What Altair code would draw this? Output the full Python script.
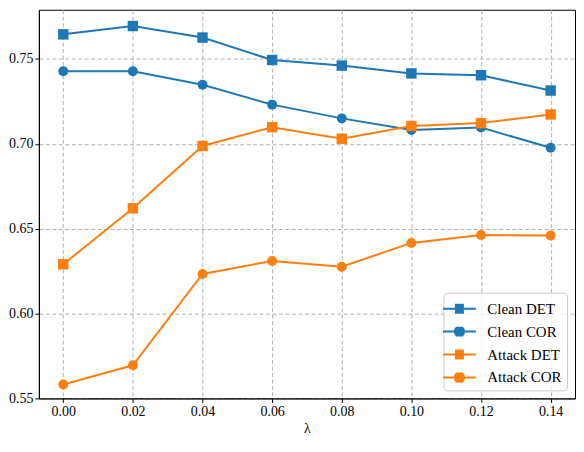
import math
import pandas as pd
import altair as alt

lambdas = [0.00, 0.02, 0.04, 0.06, 0.08, 0.10, 0.12, 0.14]
clean_det = [0.7645, 0.7694, 0.7626, 0.7494, 0.7461, 0.7415, 0.7404, 0.7314]
clean_cor = [0.7428, 0.7428, 0.7348, 0.7231, 0.7150, 0.7081, 0.7096, 0.6977]
attack_det = [0.6290, 0.6620, 0.6987, 0.7098, 0.7030, 0.7105, 0.7122, 0.7173]
attack_cor = [0.5582, 0.5695, 0.6233, 0.6310, 0.6276, 0.6416, 0.6463, 0.6460]

series_names = ['Clean DET', 'Clean COR', 'Attack DET', 'Attack COR']
series_colors = ['#1f77b4', '#1f77b4', '#ff7f0e', '#ff7f0e']
series_markers = ['square', 'circle', 'square', 'circle']

rows = []
for name, vals in zip(series_names, [clean_det, clean_cor, attack_det, attack_cor]):
    for lam, v in zip(lambdas, vals):
        rows.append({'lambda': lam, 'value': v, 'series': name})
df = pd.DataFrame(rows)

FONT = 'Liberation Serif'

# legend glyphs drawn with strokes only: a line segment plus a marker made of
# stacked horizontal strokes (1 unit = 10px at symbolSize 400)
rows_y = [-0.4, -0.3, -0.2, -0.1, 0.0, 0.1, 0.2, 0.3, 0.4]
sq_path = 'M-1.65,0H1.65' + ''.join('M-0.45,%.2fH0.45' % yy for yy in rows_y)
ci_path = 'M-1.65,0H1.65' + ''.join(
    'M%.3f,%.2fH%.3f' % (-math.sqrt(0.3 - yy * yy), yy, math.sqrt(0.3 - yy * yy)) for yy in rows_y)
legend_shapes = [sq_path, ci_path, sq_path, ci_path]

axis_style = dict(labelFont=FONT, labelFontSize=14, labelColor='black',
                  titleFont=FONT, titleFontSize=14, titleFontWeight='normal', titleColor='black',
                  domainColor='black', tickColor='black', tickSize=4, labelPadding=2,
                  grid=True, gridColor='#b0b0b0', gridDash=[4, 2.5], gridWidth=1)
x = alt.X('lambda:Q', title='λ',
          scale=alt.Scale(domain=[-0.007, 0.147], nice=False, zero=False),
          axis=alt.Axis(values=lambdas, format='.2f', titlePadding=3, **axis_style))
y = alt.Y('value:Q', title=None,
          scale=alt.Scale(domain=[0.55, 0.779], nice=False, zero=False),
          axis=alt.Axis(values=[0.55, 0.60, 0.65, 0.70, 0.75], format='.2f', **axis_style))
color_scale = alt.Scale(domain=series_names, range=series_colors)

base = alt.Chart(df).encode(x=x, y=y, color=alt.Color('series:N', scale=color_scale, legend=None))
layers = []
for name, marker in zip(series_names, series_markers):
    sub = base.transform_filter(alt.datum.series == name)
    layers.append(sub.mark_line(strokeWidth=2))
    if marker == 'square':
        layers.append(sub.mark_square(size=110, opacity=1))
    else:
        layers.append(sub.mark_circle(size=100, opacity=1))

legend = alt.Legend(
    title=None, orient='bottom-right', offset=8,
    fillColor='rgba(255,255,255,0.8)', strokeColor='#cccccc',
    cornerRadius=4, padding=5,
    labelFont=FONT, labelFontSize=15, labelColor='black',
    symbolSize=400, symbolStrokeWidth=2, symbolOpacity=1,
    rowPadding=4, labelOffset=17,
)
# legend-only layer: its points sit outside the y domain and are clipped away
legend_layer = alt.Chart(df).mark_point(filled=False, clip=True).encode(
    x=x, y=alt.Y('hidden:Q'),
    color=alt.Color('series:N', scale=color_scale, legend=legend),
    shape=alt.Shape('series:N', scale=alt.Scale(domain=series_names, range=legend_shapes), legend=legend),
).transform_calculate(hidden='0.5')
layers.append(legend_layer)

chart = alt.layer(*layers).resolve_scale(
    color='independent', shape='independent'
).properties(
    width=538, height=390,
    padding={'left': 0, 'top': 1, 'right': 1, 'bottom': 0},
).configure_view(
    stroke='black', strokeWidth=1
)

chart.save('out.html', embed_options={'renderer': 'svg', 'actions': False})
